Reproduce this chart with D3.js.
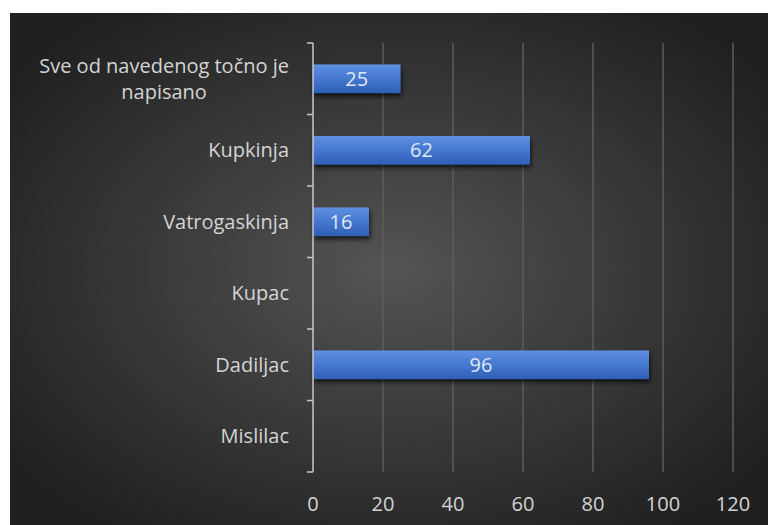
<!DOCTYPE html>
<html>
<head>
<meta charset="utf-8">
<script src="https://cdn.jsdelivr.net/npm/d3@7"></script>
<style>
  html, body { margin: 0; padding: 0; background: #fff; }
  svg { display: block; font-family: "Open Sans", sans-serif; }
</style>
</head>
<body>
<div id="chart"></div>
<script>
// categories top to bottom, as in the picture
var categories = ["Sve od navedenog točno je napisano", "Kupkinja", "Vatrogaskinja", "Kupac", "Dadiljac", "Mislilac"];
var labelLines = [["Sve od navedenog točno je", "napisano"], ["Kupkinja"], ["Vatrogaskinja"], ["Kupac"], ["Dadiljac"], ["Mislilac"]];
var values = [25, 62, 16, null, 96, null];
var xTicks = [0, 20, 40, 60, 80, 100, 120];

var W = 768, H = 525;
var svg = d3.select("#chart").append("svg")
    .attr("width", W)
    .attr("height", H);

var defs = svg.append("defs");

// dark radial background
var bg = defs.append("radialGradient")
    .attr("id", "bg")
    .attr("cx", "50%").attr("cy", "50%").attr("r", "62%");
bg.append("stop").attr("offset", "0%").attr("stop-color", "#545454");
bg.append("stop").attr("offset", "100%").attr("stop-color", "#202020");

// bar fill, lighter on top
var bf = defs.append("linearGradient")
    .attr("id", "barfill")
    .attr("x1", 0).attr("y1", 0).attr("x2", 0).attr("y2", 1);
bf.append("stop").attr("offset", "0%").attr("stop-color", "#5f90e0");
bf.append("stop").attr("offset", "50%").attr("stop-color", "#4577cf");
bf.append("stop").attr("offset", "100%").attr("stop-color", "#2f5fb6");

var sh = defs.append("filter").attr("id", "shadow")
    .attr("x", "-10%").attr("y", "-30%").attr("width", "130%").attr("height", "190%");
sh.append("feDropShadow")
    .attr("dx", 1).attr("dy", 3).attr("stdDeviation", 2.5)
    .attr("flood-color", "#000").attr("flood-opacity", 0.75);

svg.append("rect")
    .attr("x", 10).attr("y", 13)
    .attr("width", W - 10).attr("height", H - 13)
    .attr("fill", "url(#bg)");

var pLeft = 313, pRight = 733, pTop = 43, pBottom = 472;

var x = d3.scaleLinear().domain([0, 120]).range([pLeft, pRight]);
var y = d3.scaleBand().domain(categories).range([pTop, pBottom])
    .paddingInner(0.6).paddingOuter(0.3);

// vertical gridlines
svg.append("g").selectAll("line")
    .data(xTicks.filter(function(d) { return d > 0; }))
    .enter().append("line")
    .attr("x1", function(d) { return x(d); })
    .attr("x2", function(d) { return x(d); })
    .attr("y1", pTop).attr("y2", pBottom)
    .attr("stroke", "#5c5c5c")
    .attr("stroke-width", 1.5);

// bars
var withVal = categories.map(function(c, i) { return { cat: c, v: values[i] }; })
    .filter(function(d) { return d.v != null; });

svg.append("g").selectAll("rect")
    .data(withVal)
    .enter().append("rect")
    .attr("x", x(0))
    .attr("y", function(d) { return y(d.cat); })
    .attr("width", function(d) { return x(d.v) - x(0); })
    .attr("height", y.bandwidth())
    .attr("fill", "url(#barfill)")
    .attr("filter", "url(#shadow)");

// data labels
svg.append("g").selectAll("text")
    .data(withVal)
    .enter().append("text")
    .attr("x", function(d) { return (x(0) + x(d.v)) / 2; })
    .attr("y", function(d) { return y(d.cat) + y.bandwidth() / 2; })
    .attr("dy", "0.36em")
    .attr("text-anchor", "middle")
    .attr("fill", "#dfe7f5")
    .style("font-size", "20px")
    .text(function(d) { return d.v; });

// category axis with ticks at band edges
var yAxis = svg.append("g");
yAxis.append("line")
    .attr("x1", pLeft).attr("x2", pLeft)
    .attr("y1", pTop).attr("y2", pBottom)
    .attr("stroke", "#c8c8c8").attr("stroke-width", 1.5);
var edges = d3.range(categories.length + 1).map(function(i) { return pTop + i * y.step(); });
yAxis.selectAll("line.tk")
    .data(edges)
    .enter().append("line")
    .attr("class", "tk")
    .attr("x1", pLeft - 6).attr("x2", pLeft)
    .attr("y1", function(d) { return d; })
    .attr("y2", function(d) { return d; })
    .attr("stroke", "#c8c8c8").attr("stroke-width", 1.5);

// category labels
var labelRight = 289;
var lineH = 26;
categories.forEach(function(c, i) {
    var lines = labelLines[i];
    var cy = y(c) + y.bandwidth() / 2;
    var t = svg.append("text")
        .attr("fill", "#d4d4d4")
        .style("font-size", "20px");
    if (lines.length === 1) {
        t.attr("x", labelRight).attr("y", cy).attr("dy", "0.36em")
            .attr("text-anchor", "end").text(lines[0]);
    } else {
        t.attr("text-anchor", "middle");
        lines.forEach(function(l, j) {
            t.append("tspan")
                .attr("y", cy + (j - (lines.length - 1) / 2) * lineH)
                .attr("dy", "0.36em")
                .text(l);
        });
        var w = 0;
        t.selectAll("tspan").each(function() { w = Math.max(w, this.getComputedTextLength()); });
        t.selectAll("tspan").attr("x", labelRight - w / 2);
    }
});

// value axis labels
svg.append("g").selectAll("text")
    .data(xTicks)
    .enter().append("text")
    .attr("x", function(d) { return x(d); })
    .attr("y", 504)
    .attr("dy", "0.36em")
    .attr("text-anchor", "middle")
    .attr("fill", "#d4d4d4")
    .style("font-size", "20px")
    .text(function(d) { return d; });
</script>
</body>
</html>
